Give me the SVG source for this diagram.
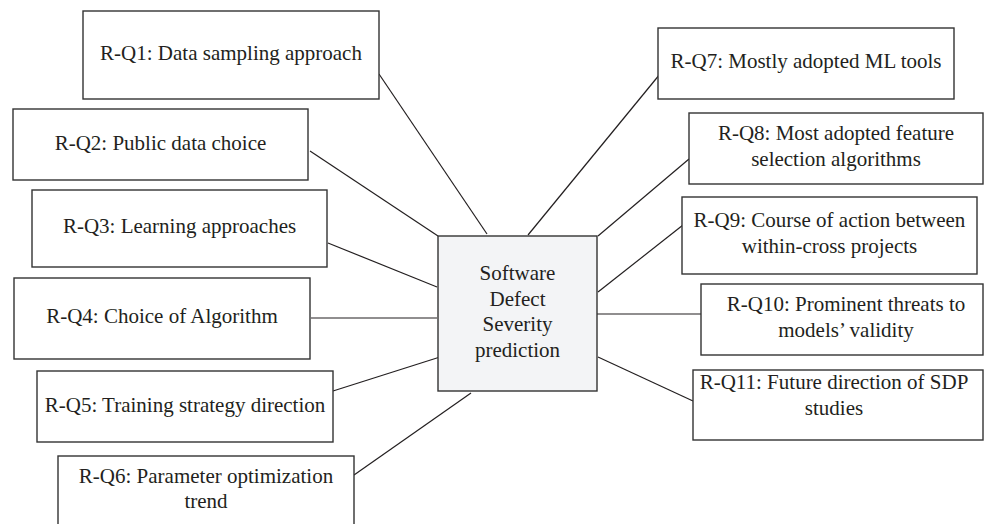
<svg xmlns="http://www.w3.org/2000/svg" width="984" height="524" viewBox="0 0 984 524">
<style>
rect.box{fill:#ffffff;stroke:#333333;stroke-width:1.4}
rect.center{fill:#f3f4f6;stroke:#333333;stroke-width:1.4}
text{font-family:"Liberation Serif","Times New Roman",serif;font-size:21px;fill:#231f20;text-anchor:middle}
#connectors line{stroke:#231f20;stroke-width:1.2}
</style>
<rect width="984" height="524" fill="#ffffff"/>
<g id="connectors">
<line x1="379" y1="74" x2="487" y2="234"/>
<line x1="310" y1="151" x2="438" y2="236"/>
<line x1="328" y1="243" x2="437" y2="287"/>
<line x1="311" y1="318" x2="437" y2="318"/>
<line x1="333" y1="391" x2="440" y2="357"/>
<line x1="354" y1="475" x2="471" y2="393"/>
<line x1="528" y1="235" x2="660" y2="74"/>
<line x1="598" y1="236" x2="689" y2="159"/>
<line x1="598" y1="292" x2="683" y2="225"/>
<line x1="597" y1="314" x2="701" y2="314"/>
<line x1="598" y1="357" x2="693" y2="401"/>
</g>
<g id="center">
<rect class="center" x="438" y="236" width="159" height="155"/>
<text x="517.5" y="280">Software</text>
<text x="517.5" y="306">Defect</text>
<text x="517.5" y="331">Severity</text>
<text x="517.5" y="357">prediction</text>
</g>
<g id="q1">
<rect class="box" x="83" y="11" width="296" height="88"/>
<text x="231" y="60">R-Q1: Data sampling approach</text>
</g>
<g id="q2">
<rect class="box" x="13" y="109" width="295" height="71"/>
<text x="160.5" y="150">R-Q2: Public data choice</text>
</g>
<g id="q3">
<rect class="box" x="32" y="190" width="295" height="77"/>
<text x="179.5" y="233">R-Q3: Learning approaches</text>
</g>
<g id="q4">
<rect class="box" x="14" y="278" width="296" height="81"/>
<text x="162" y="323">R-Q4: Choice of Algorithm</text>
</g>
<g id="q5">
<rect class="box" x="37" y="371" width="296" height="71"/>
<text x="185" y="412">R-Q5: Training strategy direction</text>
</g>
<g id="q6">
<rect class="box" x="58" y="456" width="296" height="80"/>
<text x="206" y="483">R-Q6: Parameter optimization</text>
<text x="206" y="508">trend</text>
</g>
<g id="q7">
<rect class="box" x="658" y="28" width="296" height="71"/>
<text x="806" y="68">R-Q7: Mostly adopted ML tools</text>
</g>
<g id="q8">
<rect class="box" x="689" y="113" width="294" height="71"/>
<text x="836" y="140">R-Q8: Most adopted feature</text>
<text x="836" y="166">selection algorithms</text>
</g>
<g id="q9">
<rect class="box" x="682" y="197" width="295" height="77"/>
<text x="829.5" y="227">R-Q9: Course of action between</text>
<text x="829.5" y="253">within-cross projects</text>
</g>
<g id="q10">
<rect class="box" x="701" y="284" width="282" height="71"/>
<text x="846" y="311">R-Q10: Prominent threats to</text>
<text x="846" y="337">models’ validity</text>
</g>
<g id="q11">
<rect class="box" x="693" y="370" width="290" height="70"/>
<text x="834" y="389">R-Q11: Future direction of SDP</text>
<text x="834" y="415">studies</text>
</g>
</svg>
